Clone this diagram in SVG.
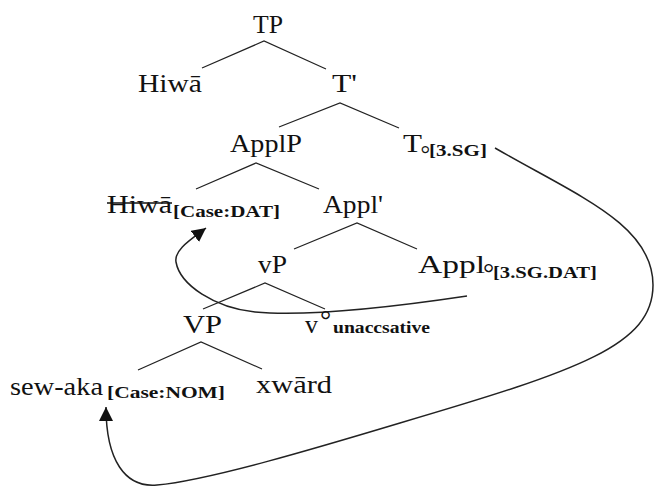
<svg xmlns="http://www.w3.org/2000/svg" width="654" height="487" viewBox="0 0 654 487">
<style>
text{font-family:"Liberation Serif","Times New Roman",serif;fill:#111}
.m{font-size:26px}
.s{font-size:17px;font-weight:bold}
.o{font-size:28px}
.t{stroke:#222;stroke-width:1.2;fill:none}
.c{stroke:#222;stroke-width:1.5;fill:none;marker-end:url(#ah)}
</style>
<defs>
<marker id="ah" markerUnits="userSpaceOnUse" markerWidth="16" markerHeight="14" refX="14" refY="7" orient="auto">
<path d="M0,0 L14,7 L0,14 z" fill="#111"/>
</marker>
</defs>
<rect width="654" height="487" fill="#fff"/>
<g id="connectors">
<path class="t" d="M202,68 L264,41 L326,69"/>
<path class="t" d="M279,127 L340,103 L399,128"/>
<path class="t" d="M196,189 L256,163 L319,189"/>
<path class="t" d="M294,249 L357,223 L417,249"/>
<path class="t" d="M203,309 L265,283 L325,309"/>
<path class="t" d="M138,370 L201,342 L262,369"/>
<path class="c" d="M467,296 C380,309 300,316 255,312 C215,308 180,285 176,262 C174,250 190,240 206,228"/>
<path class="c" d="M495,148 C580,197 653,225 653,285 C653,345 580,370 400,423 C320,447 210,480 157,485 C125,488 106,460 106,407"/>
</g>
<g id="n-TP"><text class="m" x="253" y="33" textLength="30" lengthAdjust="spacingAndGlyphs">TP</text></g>
<g id="n-Hiwa"><text class="m" x="138" y="92" textLength="64" lengthAdjust="spacingAndGlyphs">Hiwā</text></g>
<g id="n-Tbar"><text class="m" x="332" y="92" textLength="25" lengthAdjust="spacingAndGlyphs">T'</text></g>
<g id="n-ApplP"><text class="m" x="230" y="152" textLength="72" lengthAdjust="spacingAndGlyphs">ApplP</text></g>
<g id="n-T0">
<text class="m" x="403" y="152" textLength="19" lengthAdjust="spacingAndGlyphs">T</text>
<text class="o" x="420.5" y="161.5" style="font-size:24px">°</text>
<text class="s" x="429" y="156" textLength="58" lengthAdjust="spacingAndGlyphs">[3.SG]</text>
</g>
<g id="n-Hiwa2">
<text class="m" x="107" y="213" textLength="65" lengthAdjust="spacingAndGlyphs">Hiwā</text>
<line x1="107" y1="203" x2="172" y2="203" stroke="#111" stroke-width="1.5"/>
<text class="s" x="173" y="217" textLength="107" lengthAdjust="spacingAndGlyphs">[Case:DAT]</text>
</g>
<g id="n-Applbar"><text class="m" x="323" y="213" textLength="60" lengthAdjust="spacingAndGlyphs">Appl'</text></g>
<g id="n-vP"><text class="m" x="258" y="273" textLength="29" lengthAdjust="spacingAndGlyphs">vP</text></g>
<g id="n-Appl0">
<text class="m" x="418" y="273" textLength="67" lengthAdjust="spacingAndGlyphs">Appl</text>
<text class="o" x="483" y="282">°</text>
<text class="s" x="493" y="278" textLength="104" lengthAdjust="spacingAndGlyphs">[3.SG.DAT]</text>
</g>
<g id="n-VP"><text class="m" x="183" y="333" textLength="39" lengthAdjust="spacingAndGlyphs">VP</text></g>
<g id="n-v0">
<text class="m" x="305" y="333" textLength="13" lengthAdjust="spacingAndGlyphs">v</text>
<text class="o" x="320" y="329">°</text>
<text class="s" x="333" y="333" textLength="97" lengthAdjust="spacingAndGlyphs">unaccsative</text>
</g>
<g id="n-sewaka">
<text class="m" x="10" y="395" textLength="93" lengthAdjust="spacingAndGlyphs">sew-aka</text>
<text class="s" x="107" y="398" textLength="118" lengthAdjust="spacingAndGlyphs">[Case:NOM]</text>
</g>
<g id="n-xward"><text class="m" x="256" y="393" textLength="76" lengthAdjust="spacingAndGlyphs">xwārd</text></g>
</svg>
